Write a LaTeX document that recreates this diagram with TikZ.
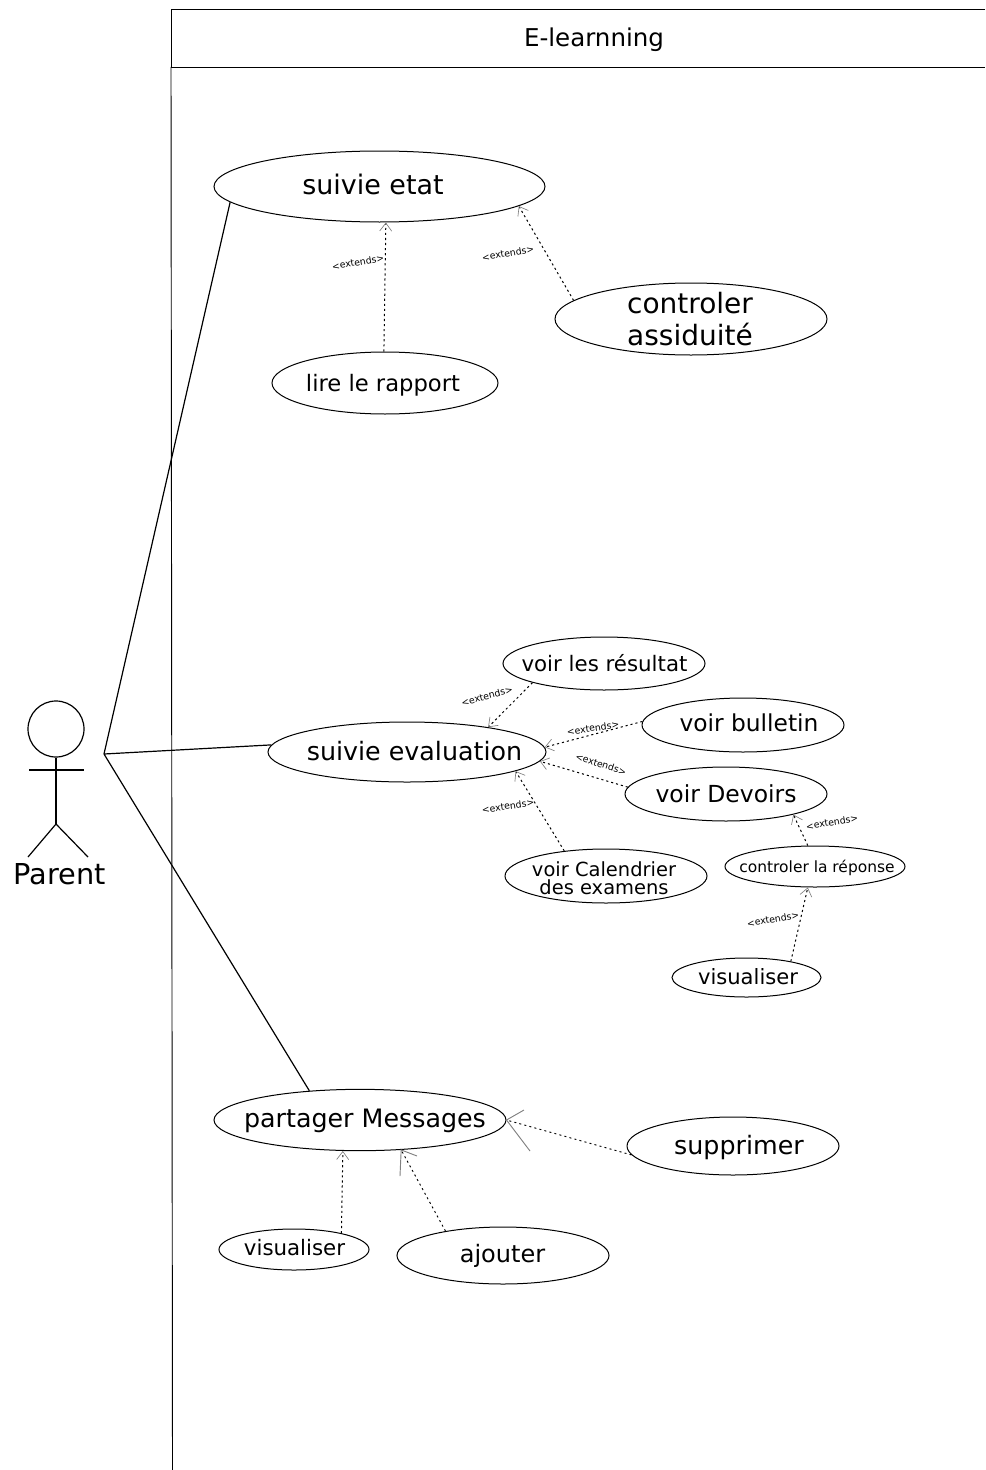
\documentclass[tikz,border=0pt]{standalone}
\usepackage{fontspec}
\setmainfont{DejaVu Sans}
\usetikzlibrary{shapes.geometric,arrows.meta}
\tikzset{
  uc/.style={draw=black,ellipse,inner sep=0pt,line width=0.75pt,text=black},
  dep/.style={draw=black,line width=0.75pt,dash pattern=on 1.6pt off 2.2pt,-{Straight Barb[color=gray,length=6pt,width=9pt,line width=0.5pt]}},
  depplain/.style={draw=black,line width=0.7pt,dash pattern=on 1.5pt off 2.4pt},
  barb/.style={draw=gray,line width=0.7pt},
  assoc/.style={draw=black,line width=0.9pt},
  ext/.style={font=\fontsize{7}{7}\selectfont,inner sep=0pt},
  frameline/.style={draw=black,line width=0.7pt}
}
\newcommand{\fs}[1]{\fontsize{#1}{#1}\selectfont}
% text offset from the node centre: dx, dy of the baseline, in reference pixels
\newcommand{\uct}[3]{\makebox[0pt]{\hspace*{\dimexpr #1pt*3/2\relax}\smash{\raisebox{\dimexpr -#2pt*3/4\relax}{#3}}}}
\begin{document}
\begin{tikzpicture}[x=0.75pt,y=-0.75pt]
\useasboundingbox (0,0) rectangle (985,1470);
% frame
\coordinate (ftl) at (171,9);
\coordinate (ftr) at (985,9);
\coordinate (fml) at (171,67);
\coordinate (fmr) at (985,67);
\coordinate (fbl) at (172.5,1470);
\draw[frameline] (ftr) -- (ftl) -- (fml) -- (fmr);
\draw[frameline] (fml) -- (fbl);
\node[font=\fs{18.4},inner sep=0pt] (title) at (594,38) {\uct{0}{9}{E-learnning}};
% use cases
\node[uc,minimum width=248.25pt,minimum height=53.25pt,font=\fs{20.2}] (etat) at (379.5,186.5) {\uct{-6.5}{7.5}{suivie etat}};
\node[uc,minimum width=204pt,minimum height=54pt,font=\fs{21}] (assid) at (691,319) {\uct{-1}{-6}{controler}\uct{-1}{26}{assiduité}};
\node[uc,minimum width=169.5pt,minimum height=46.5pt,font=\fs{17}] (lire) at (385,383) {\uct{-2}{8}{lire le rapport}};
\node[uc,minimum width=151.5pt,minimum height=39.75pt,font=\fs{16}] (result) at (604,663.5) {\uct{0.5}{7.5}{voir les résultat}};
\node[uc,minimum width=208.5pt,minimum height=45pt,font=\fs{19}] (eval) at (407,752) {\uct{7.5}{8.5}{suivie evaluation}};
\node[uc,minimum width=151.5pt,minimum height=40.5pt,font=\fs{17.5}] (bull) at (743,725) {\uct{6}{6}{voir bulletin}};
\node[uc,minimum width=151.5pt,minimum height=40.5pt,font=\fs{17.6}] (dev) at (726,794) {\uct{0}{8}{voir Devoirs}};
\node[uc,minimum width=151.5pt,minimum height=40.5pt,font=\fs{14.6}] (cal) at (606,876) {\uct{-2}{0}{voir Calendrier}\uct{-2}{18}{des examens}};
\node[uc,minimum width=135pt,minimum height=30.75pt,font=\fs{11.6}] (rep) at (815,866.5) {\uct{2}{5.5}{controler la réponse}};
\node[uc,minimum width=111.75pt,minimum height=29.25pt,font=\fs{15.8}] (visa) at (746.5,977.5) {\uct{1.5}{6.5}{visualiser}};
\node[uc,minimum width=219pt,minimum height=46pt,font=\fs{19}] (part) at (360,1120) {\uct{5}{7}{partager Messages}};
\node[uc,minimum width=159pt,minimum height=43.5pt,font=\fs{19}] (supp) at (733,1146) {\uct{6}{8}{supprimer}};
\node[uc,minimum width=112.5pt,minimum height=30.75pt,font=\fs{16}] (visb) at (294,1249.5) {\uct{0.5}{5.5}{visualiser}};
\node[uc,minimum width=159pt,minimum height=42.75pt,font=\fs{18}] (ajout) at (503,1255.5) {\uct{-0.5}{6.5}{ajouter}};
% actor
\node[draw=black,circle,line width=0.9pt,minimum size=42pt,inner sep=0pt] (head) at (56,729) {};
\coordinate (hip) at (56,824);
\coordinate (arml) at (29,770);
\coordinate (armr) at (84,770);
\coordinate (legl) at (28,857);
\coordinate (legr) at (88,857);
\coordinate (hand) at (104,754);
\draw[assoc] (head.south) -- (hip);
\draw[assoc] (arml) -- (armr);
\draw[assoc] (legl) -- (hip) -- (legr);
\node[font=\fs{21.6},inner sep=0pt] (parent) at (59.5,873) {\uct{0}{11}{Parent}};
% associations
\draw[assoc] (hand) -- (etat.186);
\draw[assoc] (hand) -- (eval.177.5);
\draw[assoc] (hand) -- (part.150);
% extends
\draw[dep] (lire.92) -- (etat.-80);
\draw[dep] (assid.171) -- (etat.-8);
\draw[dep] (result.195) -- (eval.17.5);
\draw[dep] (bull.178) -- (eval.2.5);
\draw[dep] (dev.176) -- (eval.-4);
\draw[dep] (cal.149) -- (eval.-10);
\draw[dep] (rep.109) -- (dev.-17);
\draw[dep] (visa.20) -- (rep.251.5);
\draw[dep] (visb.19) -- (part.241);
% the two open heads that are drawn unevenly
\coordinate (suppu) at (524,1110);
\coordinate (suppl) at (530,1151);
\coordinate (ajoutl) at (400,1176);
\coordinate (ajoutr) at (417,1156);
\draw[depplain] (supp.185.5) -- (part.0);
\draw[barb] (suppu) -- (part.0) -- (suppl);
\draw[depplain] (ajout.157) -- (part.-36);
\draw[barb] (ajoutl) -- (part.-36) -- (ajoutr);
% labels
\node[ext,rotate=10] (e1) at (358,262) {<extends>};
\node[ext,rotate=10] (e2) at (508,253) {<extends>};
\node[ext,rotate=15] (e3) at (487,696) {<extends>};
\node[ext,rotate=8] (e4) at (593,728) {<extends>};
\node[ext,rotate=-18] (e5) at (601,764) {<extends>};
\node[ext,rotate=8] (e6) at (508,806) {<extends>};
\node[ext,rotate=10] (e7) at (832,822) {<extends>};
\node[ext,rotate=10] (e8) at (773,919) {<extends>};
\end{tikzpicture}
\end{document}
